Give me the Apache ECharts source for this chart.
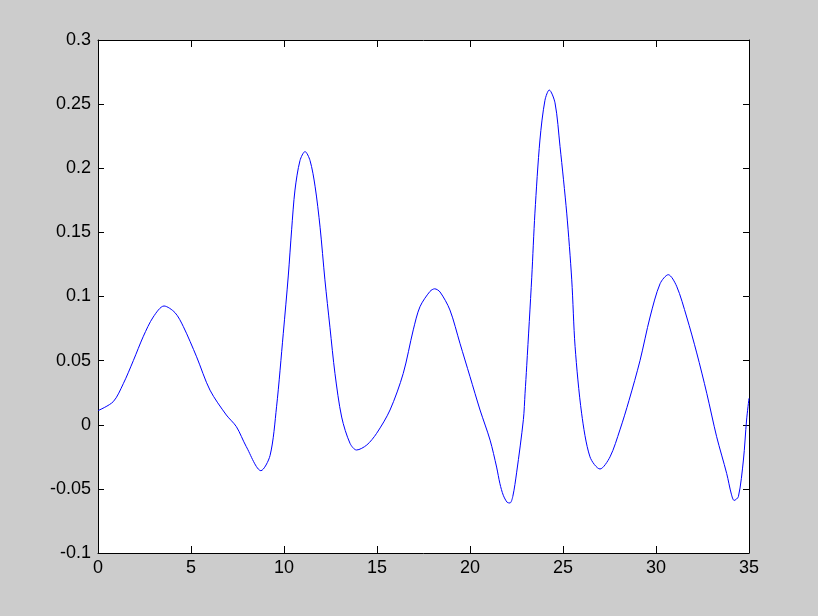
<!DOCTYPE html>
<html>
<head>
<meta charset="utf-8">
<script src="https://cdn.jsdelivr.net/npm/echarts@6/dist/echarts.min.js"></script>
<style>
  html, body { margin: 0; padding: 0; background: #cccccc; }
  #chart { width: 818px; height: 616px; }
</style>
</head>
<body>
<div id="chart"></div>
<script>
// x positions and values
const xs = [0, 0.82, 1.36, 1.9, 2.44, 2.97, 3.55, 4.14, 4.59, 5.3, 6.02, 6.9, 7.44, 7.97, 8.76,
  9.25, 9.6, 9.96, 10.23, 10.41, 10.59, 10.86, 11.13, 11.4, 11.67, 11.94, 12.2, 12.47, 12.74,
  13.1, 13.55, 13.9, 14.45, 14.98, 15.7, 16.41, 16.95, 17.31, 17.85, 18.1, 18.39, 18.92, 19.46, 20.0,
  20.54, 21.08, 21.43, 21.61, 21.79, 22.0, 22.15, 22.3, 22.51, 22.87, 22.96, 23.05, 23.32, 23.49, 23.76, 24.03,
  24.26, 24.57, 24.84, 25.2, 25.47, 25.65, 26.0, 26.45, 26.99, 27.53, 28.06, 28.55, 29.14,
  29.68, 30.22, 30.66, 31.11, 31.65, 32.19, 32.73, 33.26, 33.8, 34.05, 34.2, 34.43, 34.7, 34.87, 35.0]
const ys = [0.011, 0.018, 0.032, 0.050, 0.069, 0.084, 0.0926, 0.0874, 0.0765, 0.053, 0.027, 0.0076,
  -0.0015, -0.017, -0.0358, -0.024, 0.014, 0.071, 0.116, 0.152, 0.183, 0.206, 0.213, 0.206, 0.186,
  0.154, 0.113, 0.076, 0.040, 0.006, -0.0145, -0.0197, -0.0158, -0.0067, 0.0115, 0.040, 0.074,
  0.092, 0.104, 0.106, 0.1035, 0.0895, 0.0635, 0.0375, 0.0115, -0.012, -0.033, -0.046, -0.055, -0.0605,
  -0.061, -0.056, -0.037, 0.004, 0.0245, 0.046, 0.115, 0.165, 0.222, 0.253, 0.261, 0.251, 0.217, 0.165,
  0.113, 0.061, 0.009, -0.025, -0.0345, -0.025, -0.004, 0.019, 0.050, 0.084, 0.110, 0.117, 0.108,
  0.084, 0.056, 0.0245, -0.0093, -0.038, -0.054, -0.059, -0.056, -0.0275, 0.0037, 0.0206]

const chart = echarts.init(document.getElementById('chart'))
const lineData = xs.map((x, i) => [x, ys[i]])

const axisBase = {
  type: 'value',
  axisLine: { show: true, onZero: false, lineStyle: { color: '#000', width: 1 } },
  splitLine: { show: false }
}
const labelStyle = { color: '#000', fontFamily: 'Liberation Sans', fontSize: 18 }
const xTick = { show: true, inside: true, length: 7, lineStyle: { color: '#000' } }
const yTick = { show: true, inside: true, length: 6, lineStyle: { color: '#000' } }

chart.setOption({
  backgroundColor: '#cccccc',
  animation: false,
  grid: { left: 98, right: 69, top: 40, bottom: 63, show: true, backgroundColor: '#fff', borderWidth: 0 },
  xAxis: [
    Object.assign({}, axisBase, {
      position: 'bottom', min: 0, max: 35, interval: 5, axisTick: xTick,
      axisLabel: Object.assign({ margin: 6 }, labelStyle)
    }),
    Object.assign({}, axisBase, {
      position: 'top', min: 0, max: 35, interval: 5, axisTick: xTick,
      axisLabel: { show: false }
    })
  ],
  yAxis: [
    Object.assign({}, axisBase, {
      position: 'left', min: -0.1, max: 0.3, interval: 0.05, axisTick: yTick,
      axisLabel: Object.assign({ margin: 7 }, labelStyle)
    }),
    Object.assign({}, axisBase, {
      position: 'right', min: -0.1, max: 0.3, interval: 0.05, axisTick: yTick,
      axisLabel: { show: false }
    })
  ],
  series: [
    {
      type: 'line',
      data: lineData,
      smooth: 0.3,
      showSymbol: false,
      lineStyle: { color: '#0000ff', width: 1 },
      clip: true
    }
  ]
})
</script>
</body>
</html>
